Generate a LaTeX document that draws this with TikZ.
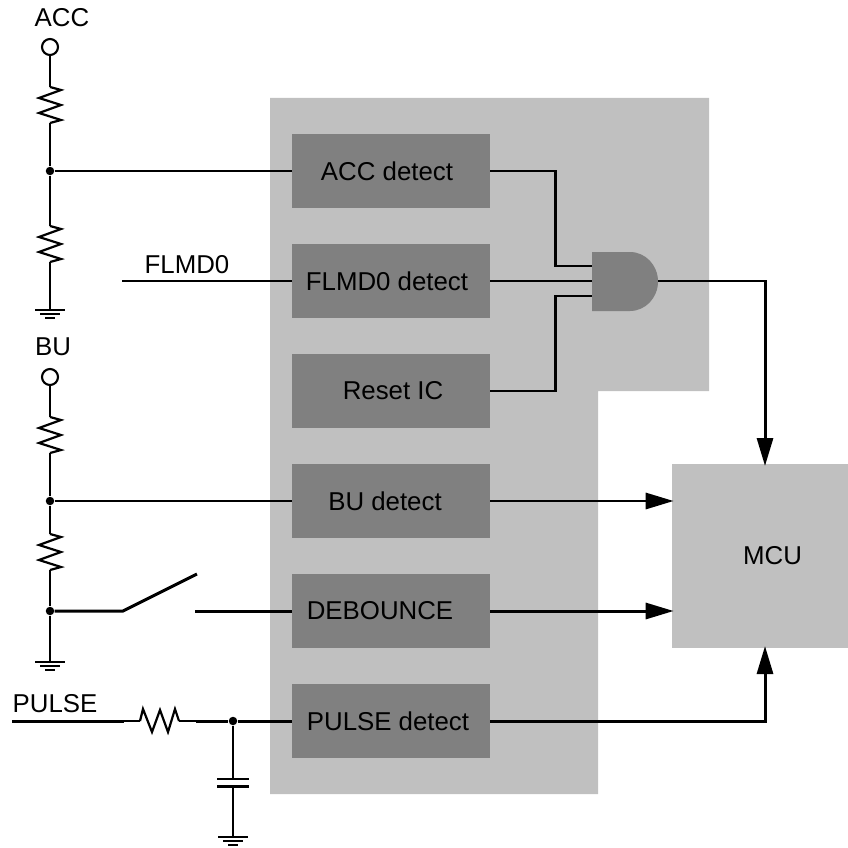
\documentclass[tikz,border=0pt]{standalone}
\usepackage{fontspec}
\setmainfont{Liberation Sans}
\usetikzlibrary{arrows.meta}
\definecolor{panelgray}{HTML}{C0C0C0}
\definecolor{blockgray}{HTML}{808080}
\tikzset{
	wire/.style={line width=1.7pt, black},
	midwire/.style={line width=1.25pt, black},
	thinwire/.style={line width=0.85pt, black},
	arrowwire/.style={wire, -{Triangle[length=0.56cm,width=0.32cm]}},
	block/.style={fill=blockgray, minimum width=3.96cm, minimum height=1.48cm, inner sep=0pt, font=\fontsize{14.7pt}{17pt}\selectfont},
	tag/.style={inner sep=0pt, font=\fontsize{14.7pt}{17pt}\selectfont},
	pin/.style={circle, draw, line width=1.2pt, fill=white, minimum size=0.32cm, inner sep=0pt},
	junction/.style={circle, fill=black, minimum size=0.17cm, inner sep=0pt},
	pics/resv/.style={code={
		\draw[midwire] (0,0) -- (11,3) -- (-11,11) -- (11,18) -- (-11,26) -- (11,33) -- (0,36);
	}},
	pics/resh/.style={code={
		\draw[midwire] (0,0) -- (3,-12) -- (12,11) -- (20,-11) -- (28,11) -- (35,-12) -- (39,0);
	}},
	pics/gnd/.style={code={
		\draw[midwire] (-15,0) -- (15,0);
		\draw[midwire] (-10,4) -- (10,4);
		\draw[midwire] (-5,8) -- (5,8);
	}}
}
\begin{document}
\begin{tikzpicture}[x=0.02cm,y=-0.02cm]
	\useasboundingbox (0,0) rectangle (848,848);
	% Background panel
	\fill[panelgray] (270,98) -- (709,98) -- (709,391) -- (598,391) -- (598,794) -- (270,794) -- cycle;
	
	% Blocks
	\node[block] (accdet) at (391,171) {\hspace*{-0.16cm}ACC detect};
	\node[block] (flmddet) at (391,281) {\hspace*{-0.16cm}FLMD0 detect};
	\node[block] (resetic) at (391,391) {\hspace*{0.08cm}Reset IC};
	\node[block] (budet) at (391,501) {\hspace*{-0.24cm}BU detect};
	\node[block] (debounce) at (391,611) {\hspace*{-0.44cm}DEBOUNCE};
	\node[block] (pulsedet) at (391,721) {\hspace*{-0.12cm}PULSE detect};
	\node[fill=panelgray, minimum width=3.52cm, minimum height=3.68cm, inner sep=0pt, tag] (mcu) at (760,556) {\hspace*{0.5cm}MCU};
	
	% AND gate
	\fill[blockgray] (592,252) -- (630,252) arc[start angle=-90, end angle=90, x radius=28, y radius=29.5] -- (592,311) -- cycle;
	\coordinate (andin1) at (592,266);
	\coordinate (andin2) at (592,281);
	\coordinate (andin3) at (592,296);
	\coordinate (andout) at (658,281);
	\coordinate (bend1) at (578,266);
	\coordinate (bend2) at (578,281);
	\coordinate (bend3) at (578,296);
	\coordinate (bendout) at (672,281);
	\coordinate (mcutop) at (765,466);
	\coordinate (mcubot) at (765,646);
	
	\draw[wire] (accdet.east) -- (555,171) |- (bend1);
	\draw[wire] (flmddet.east) -- (bend2);
	\draw[wire] (resetic.east) -- (555,391) |- (bend3);
	\draw[thinwire] (bend1) -- (andin1);
	\draw[thinwire] (bend2) -- (andin2);
	\draw[thinwire] (bend3) -- (andin3);
	\draw[thinwire] (andout) -- (bendout);
	\draw[arrowwire] (bendout) -| (mcutop);
	\draw[arrowwire] (budet.east) -- ([xshift=0.04cm]budet.east -| mcu.west);
	\draw[arrowwire] (debounce.east) -- ([xshift=0.04cm]debounce.east -| mcu.west);
	\draw[arrowwire] (pulsedet.east) -| (mcubot);
	
	% ACC divider
	\node[tag] (acclbl) at (62,18) {ACC};
	\node[pin] (accpin) at (50,47) {};
	\node[junction] (accjoin) at (50,171) {};
	\coordinate (ra1top) at (50,87);
	\coordinate (ra1bot) at (50,123);
	\coordinate (ra2top) at (50,226);
	\coordinate (ra2bot) at (50,262);
	\coordinate (accgnd) at (50,310);
	\pic at (ra1top) {resv};
	\pic at (ra2top) {resv};
	\pic at (accgnd) {gnd};
	\draw[wire] (accpin) -- (ra1top);
	\draw[wire] (ra1bot) -- (accjoin);
	\draw[wire] (accjoin) -- (ra2top);
	\draw[wire] (ra2bot) -- (accgnd);
	\draw[wire] (accjoin) -- (accdet.west);
	
	% FLMD0
	\node[tag] (flmdlbl) at (187,265) {FLMD0};
	\coordinate (flmdend) at (122,281);
	\draw[wire] (flmdend) -- (flmddet.west);
	
	% BU divider and switch
	\node[tag] (bulbl) at (53,347) {BU};
	\node[pin] (bupin) at (50,377) {};
	\node[junction] (bujoin) at (50,501) {};
	\node[junction] (swjoin) at (50,611) {};
	\coordinate (rb1top) at (50,417);
	\coordinate (rb1bot) at (50,453);
	\coordinate (rb2top) at (50,534);
	\coordinate (rb2bot) at (50,570);
	\coordinate (bugnd) at (50,662);
	\coordinate (swleft) at (123,611);
	\coordinate (swtip) at (197,574);
	\coordinate (swright) at (195,611);
	\pic at (rb1top) {resv};
	\pic at (rb2top) {resv};
	\pic at (bugnd) {gnd};
	\draw[wire] (bupin) -- (rb1top);
	\draw[wire] (rb1bot) -- (bujoin);
	\draw[wire] (bujoin) -- (rb2top);
	\draw[wire] (rb2bot) -- (swjoin);
	\draw[wire] (swjoin) -- (bugnd);
	\draw[wire] (bujoin) -- (budet.west);
	\draw[wire] (swjoin) -- (swleft) -- (swtip);
	\draw[wire] (swright) -- (debounce.west);
	
	% PULSE input
	\node[tag] (pulselbl) at (55,704) {PULSE};
	\node[junction] (pulsejoin) at (233,721) {};
	\coordinate (pulseend) at (12,721);
	\coordinate (rpleft) at (124,721);
	\coordinate (rpa) at (140,721);
	\coordinate (rpb) at (179,721);
	\coordinate (rpright) at (196,721);
	\coordinate (captop) at (233,779);
	\coordinate (capbot) at (233,786.5);
	\coordinate (pulsegnd) at (233,837);
	\pic at (rpa) {resh};
	\pic at (pulsegnd) {gnd};
	\draw[wire] (pulseend) -- (rpleft);
	\draw[thinwire] (rpleft) -- (rpa);
	\draw[thinwire] (rpb) -- (rpright);
	\draw[wire] (rpright) -- (pulsejoin);
	\draw[wire] (pulsejoin) -- (pulsedet.west);
	\draw[wire] (pulsejoin) -- (captop);
	\draw[midwire] ([xshift=-0.32cm]captop) -- ([xshift=0.32cm]captop);
	\draw[midwire] ([xshift=-0.32cm]capbot) -- ([xshift=0.32cm]capbot);
	\draw[wire] (capbot) -- (pulsegnd);
\end{tikzpicture}
\end{document}
